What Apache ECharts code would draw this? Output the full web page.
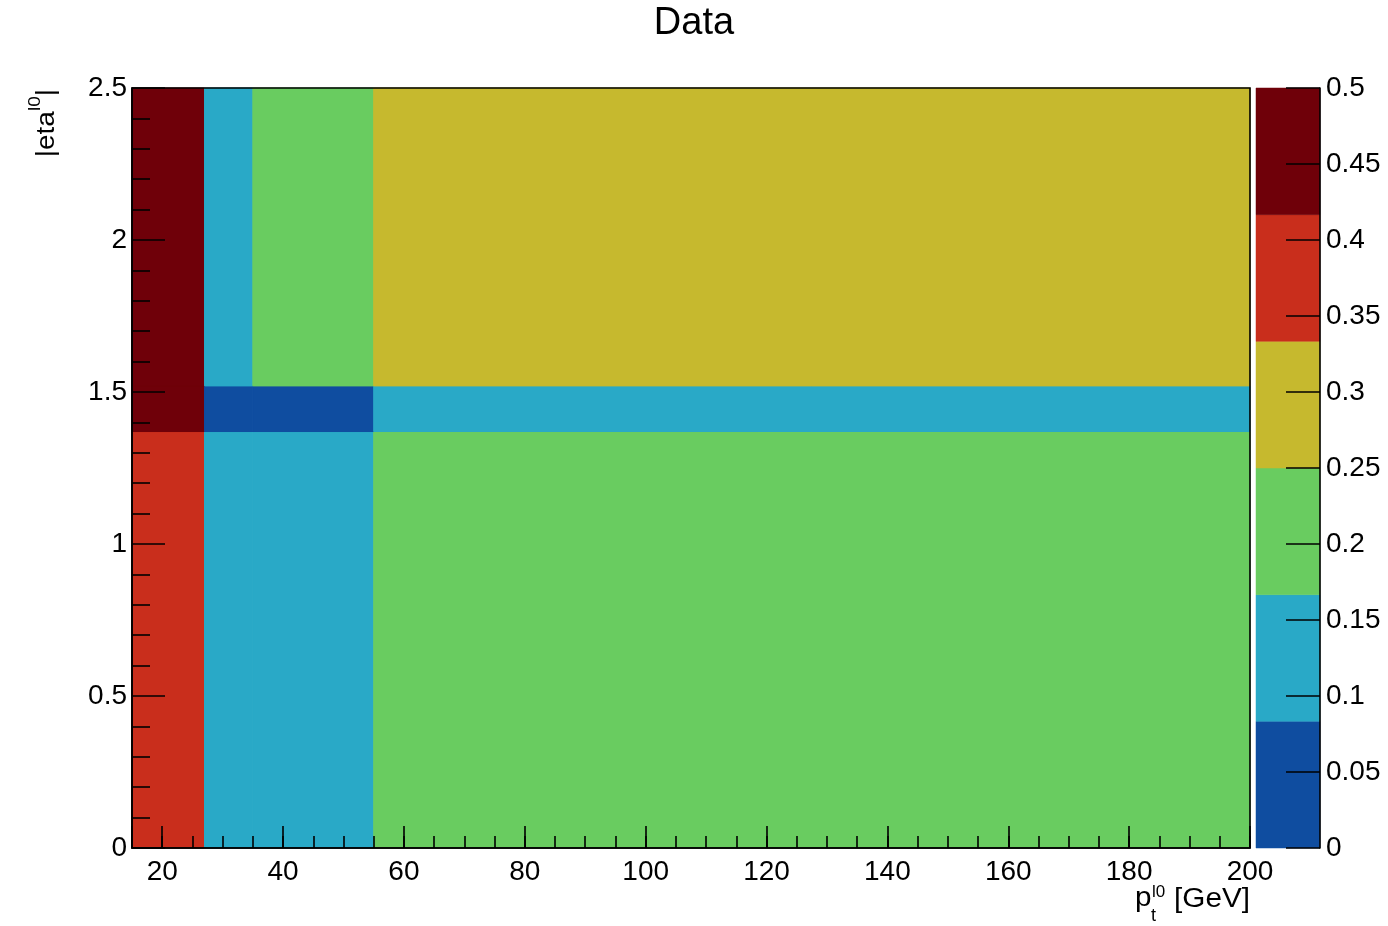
<!DOCTYPE html>
<html>
<head>
<meta charset="utf-8">
<title>Data</title>
<script src="https://cdn.jsdelivr.net/npm/echarts@6/dist/echarts.min.js"></script>
<style>
  html, body { margin: 0; padding: 0; background: #fff; }
  #chart { width: 1388px; height: 926px; }
</style>
</head>
<body>
<div id="chart"></div>
<script>
// bin edges of the 2D histogram
const ptEdges = [15, 27, 35, 55, 200]
const etaEdges = [0, 1.37, 1.52, 2.5]
// cell values, one row per eta bin (bottom to top), one entry per pt bin
const row0 = [0.38, 0.13, 0.13, 0.21]
const row1 = [0.46, 0.06, 0.06, 0.14]
const row2 = [0.46, 0.14, 0.22, 0.29]
const rows = [row0, row1, row2]

// colour palette, 6 levels between 0 and 0.5
const zMin = 0
const zMax = 0.5
const palette = ['#0f4da0', '#29a9c7', '#69cc60', '#c6b92e', '#c92e1c', '#6f0009']

const font = 'Liberation Sans, Arial, Helvetica, sans-serif'

// build [x0, x1, y0, y1, z] cells
const cells = []
rows.forEach((row, j) => {
  row.forEach((z, i) => {
    cells.push([ptEdges[i], ptEdges[i + 1], etaEdges[j], etaEdges[j + 1], z])
  })
})

// colour bar bands
const bandStep = (zMax - zMin) / palette.length
const bands = palette.map((c, k) => [zMin + k * bandStep, zMin + (k + 1) * bandStep, k])

const colorFor = (z) => {
  let k = Math.floor((z - zMin) / bandStep)
  if (k < 0) k = 0
  if (k >= palette.length) k = palette.length - 1
  return palette[k]
}

const tickStyle = { color: '#000', width: 1.6 }
const labelStyle = { color: '#000', fontSize: 28, fontFamily: font }

const chart = echarts.init(document.getElementById('chart'))

chart.setOption({
  animation: false,
  backgroundColor: '#fff',
  title: {
    text: 'Data',
    left: 'center',
    top: 0,
    textStyle: { fontSize: 38, fontWeight: 'normal', fontFamily: font, color: '#000' },
  },
  grid: [
    {
      left: 132, right: 138, top: 88, bottom: 78,
      show: true, z: 10, backgroundColor: 'transparent',
      borderColor: '#000', borderWidth: 1.6,
    },
    { left: 1256, right: 68, top: 88, bottom: 78 },
  ],
  xAxis: [
    {
      // major ticks and labels
      type: 'value', gridIndex: 0, position: 'bottom', z: 12,
      min: 15, max: 200, splitNumber: 9,
      axisLine: { show: true, onZero: false, lineStyle: tickStyle },
      axisTick: { show: true, inside: true, length: 22, lineStyle: tickStyle },
      axisLabel: {
        ...labelStyle, margin: 10,
        formatter: (v) => (v === 15 ? '' : String(v)),
      },
      splitLine: { show: false },
    },
    {
      // minor ticks every 5 GeV
      type: 'value', gridIndex: 0, position: 'bottom', z: 12,
      min: 15, max: 200, interval: 5,
      axisLine: { show: false, onZero: false },
      axisTick: { show: true, inside: true, length: 12, lineStyle: tickStyle },
      axisLabel: { show: false },
      splitLine: { show: false },
    },
    {
      type: 'value', gridIndex: 1, min: 0, max: 1, show: false,
    },
  ],
  yAxis: [
    {
      type: 'value', gridIndex: 0, position: 'left', z: 12,
      min: 0, max: 2.5, interval: 0.5,
      axisLine: { show: true, onZero: false, lineStyle: tickStyle },
      axisTick: { show: true, inside: true, length: 33, lineStyle: tickStyle },
      minorTick: { show: true, splitNumber: 5, length: 18, lineStyle: tickStyle },
      axisLabel: { ...labelStyle, margin: 5 },
      splitLine: { show: false },
    },
    {
      // colour bar axis
      type: 'value', gridIndex: 1, position: 'right', z: 12,
      min: zMin, max: zMax, interval: 0.05,
      axisLine: { show: true, onZero: false, lineStyle: tickStyle },
      axisTick: { show: true, inside: true, length: 34, lineStyle: tickStyle },
      axisLabel: { ...labelStyle, margin: 6 },
      splitLine: { show: false },
    },
  ],
  series: [
    {
      type: 'custom',
      xAxisIndex: 0,
      yAxisIndex: 0,
      z: 1,
      data: cells,
      encode: { x: [0, 1], y: [2, 3] },
      renderItem: (params, api) => {
        const p0 = api.coord([api.value(0), api.value(3)])
        const p1 = api.coord([api.value(1), api.value(2)])
        const c = colorFor(api.value(4))
        return {
          type: 'rect',
          shape: { x: p0[0], y: p0[1], width: p1[0] - p0[0], height: p1[1] - p0[1] },
          style: { fill: c, stroke: c, lineWidth: 1 },
        }
      },
    },
    {
      type: 'custom',
      xAxisIndex: 2,
      yAxisIndex: 1,
      z: 1,
      data: bands,
      encode: { y: [0, 1] },
      renderItem: (params, api) => {
        const p0 = api.coord([0, api.value(1)])
        const p1 = api.coord([1, api.value(0)])
        const c = palette[api.value(2)]
        return {
          type: 'rect',
          shape: { x: p0[0], y: p0[1], width: p1[0] - p0[0], height: p1[1] - p0[1] },
          style: { fill: c, stroke: c, lineWidth: 0.5 },
        }
      },
    },
  ],
  graphic: [
    {
      // y axis title |eta^{l0}|
      type: 'text',
      x: 47, y: 89,
      rotation: Math.PI / 2,
      scaleX: 1.12,
      style: {
        text: '|eta{s|l0}|',
        fontSize: 25, fontFamily: font, fill: '#000',
        lineHeight: 25,
        align: 'right', verticalAlign: 'middle',
        rich: {
          s: { fontSize: 17, lineHeight: 17, fontFamily: font, padding: [0, 0, 24, 0] },
        },
      },
    },
    // x axis title p_t^{l0} [GeV]
    {
      type: 'text', x: 1250, y: 900, scaleX: 1.1,
      style: { text: '[GeV]', fontSize: 27, fontFamily: font, fill: '#000', align: 'right', verticalAlign: 'middle' },
    },
    {
      type: 'text', x: 1135, y: 899, scaleX: 1.1,
      style: { text: 'p', fontSize: 27, fontFamily: font, fill: '#000', align: 'left', verticalAlign: 'middle' },
    },
    {
      type: 'text', x: 1151, y: 916,
      style: { text: 't', fontSize: 18, fontFamily: font, fill: '#000', align: 'left', verticalAlign: 'middle' },
    },
    {
      type: 'text', x: 1152, y: 892,
      style: { text: 'l0', fontSize: 17, fontFamily: font, fill: '#000', align: 'left', verticalAlign: 'middle' },
    },
  ],
})
</script>
</body>
</html>
